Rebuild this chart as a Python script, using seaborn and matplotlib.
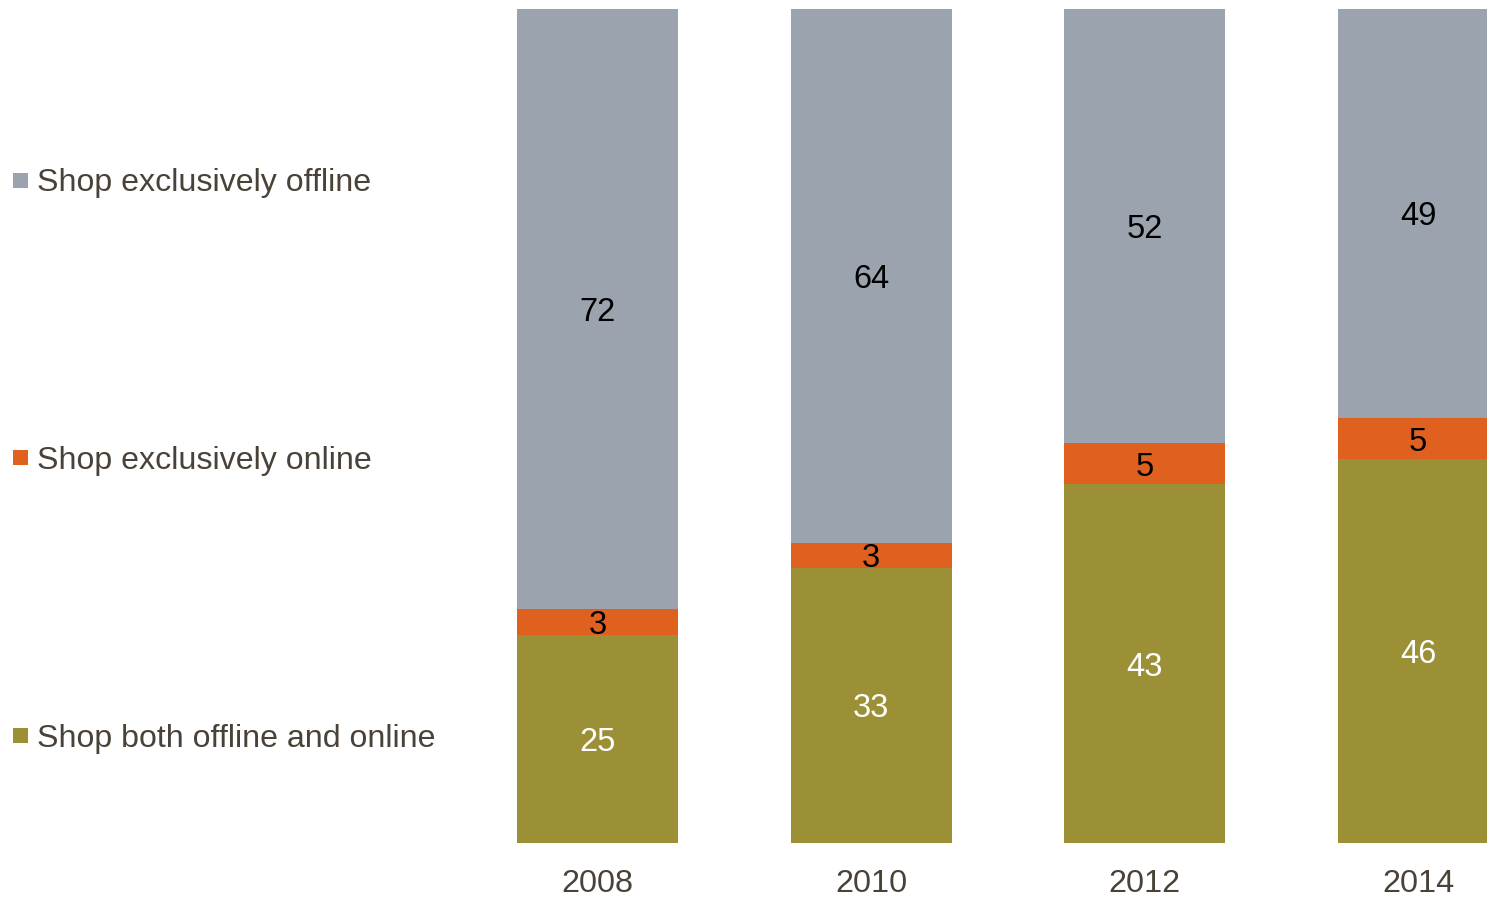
import matplotlib
matplotlib.use("Agg")
import matplotlib.pyplot as plt
import matplotlib.patches as mpatches
import seaborn as sns
import pandas as pd
import numpy as np

years = ["2008", "2010", "2012", "2014"]
both = [25, 33, 43, 46]
online = [3, 3, 5, 5]
offline = [72, 64, 52, 49]
series_names = ["Shop exclusively offline", "Shop exclusively online", "Shop both offline and online"]

c_off = "#9BA4AE"
c_on = "#E06020"
c_both = "#9C9036"
txt = "#4A4238"

sns.set_theme(style="white")
plt.rcParams['font.family'] = ['Liberation Sans', 'DejaVu Sans']

df = pd.DataFrame({"year": years, "both": both, "online": online, "offline": offline})
df["cum_online"] = df["both"] + df["online"]
df["total"] = df["cum_online"] + df["offline"]

fig = plt.figure(figsize=(14.87, 8.97), dpi=100)
ax = fig.add_axes([461 / 1487, 54 / 897, 1026 / 1487, 834 / 897])

w = 0.588
sns.barplot(data=df, x="year", y="total", order=years, color=c_off, width=w, ax=ax, saturation=1, linewidth=0)
sns.barplot(data=df, x="year", y="cum_online", order=years, color=c_on, width=w, ax=ax, saturation=1, linewidth=0)
sns.barplot(data=df, x="year", y="both", order=years, color=c_both, width=w, ax=ax, saturation=1, linewidth=0)

ax.set_xlim(-0.5, 3.252)
ax.set_ylim(0, 100)
for s in ax.spines.values():
    s.set_visible(False)
ax.set_yticks([])
ax.set_xlabel("")
ax.set_ylabel("")
ax.tick_params(axis="x", length=0, pad=18.5, labelsize=23.3, labelcolor=txt)

fs = 23.5
for i in range(len(years)):
    b, o, f = both[i], online[i], offline[i]
    ax.text(i, b / 2, str(b), ha="center", va="center_baseline", color="white", fontsize=fs)
    ax.text(i, b + o / 2, str(o), ha="center", va="center_baseline", color="black", fontsize=fs)
    ax.text(i, b + o + f / 2, str(f), ha="center", va="center_baseline", color="black", fontsize=fs)

# left-side legend
leg_y = [180, 457, 735]
leg_c = [c_off, c_on, c_both]
for name, yy, cc in zip(series_names, leg_y, leg_c):
    fig.patches.append(mpatches.Rectangle((13 / 1487, (897 - yy - 8) / 897), 15 / 1487, 15 / 897,
                                          transform=fig.transFigure, facecolor=cc, edgecolor="none"))
    fig.text(37 / 1487, (897 - yy) / 897, name, ha="left", va="center_baseline", color=txt, fontsize=23.1)

fig.savefig("out.png", dpi=100)
